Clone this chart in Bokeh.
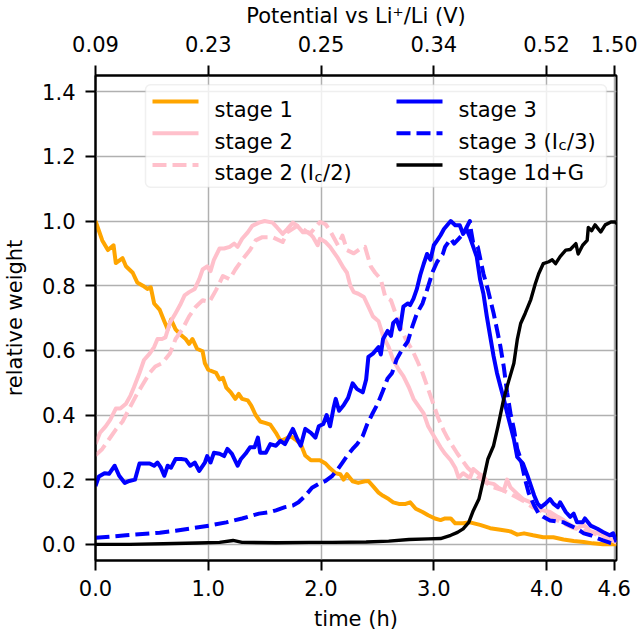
from bokeh.plotting import figure
from bokeh.models import (FixedTicker, PrintfTickFormatter, LinearAxis, Range1d,
                          BoxAnnotation, Arrow, Label, CustomJSTickFormatter)
from bokeh.embed import file_html
from bokeh.resources import INLINE

# ---------------- data ----------------
t_stage1 = [0.00, 0.06, 0.11, 0.16, 0.18, 0.24, 0.27, 0.33, 0.37, 0.42, 0.46, 0.49, 0.52, 0.57,
            0.61, 0.64, 0.67, 0.71, 0.75, 0.80, 0.83, 0.86, 0.90, 0.95, 0.97, 1.00, 1.07, 1.10,
            1.13, 1.16, 1.20, 1.24, 1.27, 1.30, 1.35, 1.38, 1.42, 1.46, 1.51, 1.55, 1.60, 1.64,
            1.68, 1.73, 1.77, 1.82, 1.86, 1.91, 1.95, 1.99, 2.04, 2.08, 2.13, 2.17, 2.20, 2.23,
            2.28, 2.33, 2.39, 2.42, 2.47, 2.51, 2.55, 2.60, 2.64, 2.69, 2.75, 2.79, 2.84, 2.90,
            2.95, 3.01, 3.06, 3.10, 3.15, 3.19, 3.26, 3.32, 3.41, 3.50, 3.59, 3.68, 3.74, 3.80,
            3.88, 3.97, 4.06, 4.15, 4.24, 4.33, 4.41, 4.50, 4.62]
w_stage1 = [1.00, 0.94, 0.91, 0.925, 0.87, 0.885, 0.86, 0.84, 0.81, 0.80, 0.79, 0.795, 0.745, 0.725,
            0.69, 0.665, 0.695, 0.665, 0.65, 0.635, 0.62, 0.635, 0.605, 0.597, 0.56, 0.54, 0.53, 0.51,
            0.515, 0.485, 0.47, 0.45, 0.465, 0.45, 0.445, 0.43, 0.40, 0.38, 0.375, 0.37, 0.345, 0.32,
            0.325, 0.335, 0.325, 0.31, 0.275, 0.26, 0.26, 0.26, 0.25, 0.235, 0.22, 0.217, 0.20, 0.217,
            0.195, 0.19, 0.195, 0.196, 0.176, 0.16, 0.15, 0.14, 0.13, 0.125, 0.125, 0.13, 0.11, 0.10,
            0.09, 0.08, 0.075, 0.08, 0.08, 0.065, 0.065, 0.068, 0.06, 0.05, 0.045, 0.04, 0.03, 0.034,
            0.028, 0.022, 0.022, 0.015, 0.01, 0.007, 0.003, 0.0, 0.0]

t_stage2 = [0.00, 0.04, 0.09, 0.13, 0.18, 0.22, 0.27, 0.31, 0.34, 0.39, 0.43, 0.48, 0.52, 0.55,
            0.59, 0.62, 0.66, 0.71, 0.75, 0.79, 0.83, 0.88, 0.92, 0.95, 0.99, 1.02, 1.05, 1.10,
            1.14, 1.19, 1.23, 1.26, 1.30, 1.35, 1.39, 1.45, 1.50, 1.57, 1.61, 1.66, 1.70, 1.75,
            1.79, 1.84, 1.89, 1.93, 1.97, 1.99, 2.04, 2.08, 2.15, 2.20, 2.23, 2.26, 2.29, 2.33,
            2.38, 2.42, 2.46, 2.51, 2.55, 2.60, 2.64, 2.69, 2.73, 2.78, 2.82, 2.86, 2.91, 2.95,
            3.00, 3.06, 3.10, 3.15, 3.19, 3.22, 3.26, 3.32, 3.35, 3.40, 3.44, 3.48, 3.53, 3.57,
            3.62, 3.65, 3.68, 3.74, 3.79, 3.86, 3.92, 3.97, 4.03, 4.10, 4.15, 4.21, 4.27, 4.33,
            4.39, 4.45, 4.54, 4.62]
w_stage2 = [0.31, 0.345, 0.365, 0.385, 0.42, 0.42, 0.435, 0.46, 0.485, 0.53, 0.57, 0.59, 0.61, 0.635,
            0.635, 0.64, 0.685, 0.715, 0.74, 0.77, 0.78, 0.79, 0.82, 0.85, 0.86, 0.845, 0.88, 0.915,
            0.915, 0.92, 0.93, 0.92, 0.945, 0.965, 0.985, 0.995, 1.00, 0.995, 0.98, 0.96, 0.975, 0.995,
            0.985, 0.965, 0.965, 0.95, 0.925, 0.945, 0.935, 0.92, 0.885, 0.855, 0.84, 0.80, 0.78, 0.775,
            0.765, 0.735, 0.705, 0.69, 0.645, 0.61, 0.57, 0.54, 0.52, 0.485, 0.45, 0.43, 0.405, 0.365,
            0.335, 0.30, 0.28, 0.26, 0.237, 0.206, 0.22, 0.205, 0.233, 0.218, 0.212, 0.19, 0.187, 0.176,
            0.166, 0.20, 0.176, 0.156, 0.14, 0.13, 0.11, 0.105, 0.10, 0.085, 0.075, 0.06, 0.05, 0.06,
            0.04, 0.035, 0.023, 0.005]

t_stage2_half = [0.00, 0.06, 0.12, 0.18, 0.24, 0.30, 0.36, 0.42, 0.48, 0.53, 0.59, 0.66, 0.71, 0.77,
                 0.83, 0.89, 0.95, 1.01, 1.07, 1.13, 1.19, 1.24, 1.30, 1.37, 1.42, 1.48, 1.57, 1.66,
                 1.70, 1.79, 1.84, 1.90, 1.99, 2.04, 2.08, 2.15, 2.19, 2.23, 2.29, 2.35, 2.39, 2.44,
                 2.48, 2.53, 2.57, 2.62, 2.66, 2.70, 2.75, 2.81, 2.85, 2.90, 2.94, 3.00, 3.04, 3.09,
                 3.12, 3.21, 3.30, 3.35, 3.44, 3.53, 3.62, 3.71, 3.79, 3.88, 3.97, 4.06, 4.15, 4.24,
                 4.33, 4.42, 4.51, 4.62]
w_stage2_half = [0.275, 0.295, 0.325, 0.355, 0.38, 0.42, 0.46, 0.495, 0.53, 0.55, 0.56, 0.59, 0.635, 0.665,
                 0.705, 0.735, 0.755, 0.75, 0.787, 0.83, 0.82, 0.85, 0.88, 0.91, 0.94, 0.95, 0.95, 0.935,
                 0.965, 0.985, 0.975, 0.96, 0.997, 0.99, 0.97, 0.925, 0.955, 0.91, 0.90, 0.915, 0.92, 0.86,
                 0.84, 0.82, 0.765, 0.755, 0.715, 0.675, 0.635, 0.60, 0.57, 0.53, 0.49, 0.43, 0.39, 0.35,
                 0.33, 0.28, 0.237, 0.22, 0.196, 0.176, 0.166, 0.15, 0.135, 0.114, 0.10, 0.08, 0.065, 0.05,
                 0.043, 0.033, 0.023, 0.007]

t_stage3 = [0.00, 0.03, 0.08, 0.12, 0.17, 0.21, 0.26, 0.30, 0.35, 0.39, 0.43, 0.48, 0.52, 0.55,
            0.58, 0.61, 0.64, 0.67, 0.71, 0.76, 0.80, 0.84, 0.88, 0.92, 0.97, 0.99, 1.02, 1.05,
            1.10, 1.14, 1.17, 1.21, 1.26, 1.29, 1.33, 1.37, 1.41, 1.44, 1.46, 1.51, 1.55, 1.60,
            1.64, 1.68, 1.75, 1.79, 1.82, 1.86, 1.91, 1.95, 1.98, 2.02, 2.05, 2.08, 2.11, 2.13,
            2.16, 2.20, 2.24, 2.28, 2.32, 2.37, 2.40, 2.42, 2.46, 2.51, 2.53, 2.55, 2.59, 2.62,
            2.64, 2.67, 2.70, 2.73, 2.77, 2.79, 2.82, 2.85, 2.88, 2.91, 2.94, 2.97, 3.00, 3.03,
            3.06, 3.09, 3.15, 3.19, 3.23, 3.26, 3.29, 3.32, 3.35, 3.38, 3.41, 3.44, 3.47, 3.50,
            3.53, 3.56, 3.59, 3.62, 3.65, 3.68, 3.71, 3.74, 3.79, 3.83, 3.86, 3.89, 3.92, 3.95,
            3.99, 4.03, 4.06, 4.10, 4.12, 4.17, 4.21, 4.24, 4.27, 4.32, 4.34, 4.39, 4.45, 4.50,
            4.56, 4.59, 4.62]
w_stage3 = [0.18, 0.21, 0.22, 0.218, 0.243, 0.212, 0.19, 0.196, 0.20, 0.25, 0.25, 0.25, 0.243, 0.253,
            0.237, 0.212, 0.243, 0.237, 0.264, 0.264, 0.262, 0.243, 0.253, 0.227, 0.253, 0.273, 0.253, 0.283,
            0.28, 0.273, 0.295, 0.28, 0.243, 0.264, 0.28, 0.30, 0.30, 0.33, 0.283, 0.283, 0.31, 0.305,
            0.32, 0.31, 0.357, 0.325, 0.305, 0.357, 0.345, 0.33, 0.365, 0.372, 0.40, 0.365, 0.42, 0.45,
            0.413, 0.43, 0.453, 0.498, 0.48, 0.47, 0.51, 0.58, 0.59, 0.61, 0.587, 0.635, 0.66, 0.645,
            0.685, 0.695, 0.665, 0.735, 0.745, 0.74, 0.76, 0.79, 0.833, 0.867, 0.898, 0.88, 0.925, 0.94,
            0.956, 0.975, 1.00, 0.987, 0.987, 0.96, 0.975, 0.95, 0.92, 0.89, 0.82, 0.775, 0.705, 0.643,
            0.582, 0.53, 0.49, 0.45, 0.407, 0.366, 0.325, 0.27, 0.25, 0.213, 0.182, 0.151, 0.126, 0.115,
            0.126, 0.14, 0.126, 0.115, 0.13, 0.10, 0.085, 0.095, 0.068, 0.068, 0.08, 0.058, 0.048, 0.038,
            0.028, 0.034, 0.007]

t_stage3_third = [0.00, 0.27, 0.57, 0.71, 0.86, 1.01, 1.16, 1.30, 1.45, 1.55, 1.60, 1.68, 1.75, 1.80,
                  1.86, 1.92, 1.98, 2.04, 2.10, 2.15, 2.19, 2.23, 2.28, 2.32, 2.37, 2.41, 2.46, 2.50,
                  2.54, 2.59, 2.63, 2.67, 2.72, 2.77, 2.81, 2.85, 2.90, 2.94, 2.99, 3.03, 3.08, 3.10,
                  3.15, 3.18, 3.22, 3.26, 3.29, 3.32, 3.33, 3.35, 3.39, 3.44, 3.48, 3.53, 3.56, 3.59, 3.62,
                  3.65, 3.68, 3.71, 3.74, 3.77, 3.81, 3.84, 3.89, 3.93, 3.97, 4.03, 4.10, 4.15, 4.21,
                  4.27, 4.33, 4.39, 4.45, 4.50, 4.56, 4.62]
w_stage3_third = [0.02, 0.028, 0.036, 0.042, 0.05, 0.058, 0.068, 0.08, 0.095, 0.10, 0.105, 0.115, 0.12, 0.13,
                  0.15, 0.175, 0.187, 0.196, 0.212, 0.233, 0.253, 0.273, 0.295, 0.31, 0.335, 0.372, 0.407, 0.433,
                  0.467, 0.513, 0.53, 0.572, 0.603, 0.628, 0.674, 0.714, 0.745, 0.787, 0.843, 0.874, 0.898, 0.92,
                  0.945, 0.93, 0.945, 0.96, 0.98, 1.0, 0.97, 0.93, 0.92, 0.837, 0.787, 0.715, 0.665, 0.613, 0.55,
                  0.47, 0.405, 0.357, 0.295, 0.264, 0.20, 0.16, 0.12, 0.095, 0.085, 0.074, 0.07, 0.068, 0.058,
                  0.048, 0.034, 0.028, 0.019, 0.012, 0.005, 0.0]

t_stage1dG = [0.00, 0.30, 0.60, 0.90, 1.10, 1.22, 1.30, 1.60, 1.90, 2.10, 2.40, 2.60, 2.78, 2.95,
              3.06, 3.15, 3.21, 3.26, 3.31, 3.35, 3.40, 3.44, 3.48, 3.53, 3.57, 3.62, 3.66, 3.71,
              3.74, 3.77, 3.81, 3.86, 3.90, 3.93, 3.97, 4.02, 4.05, 4.08, 4.12, 4.17, 4.21, 4.26,
              4.28, 4.32, 4.36, 4.37, 4.40, 4.43, 4.48, 4.52, 4.57, 4.61, 4.63]
w_stage1dG = [0.0, 0.0, 0.002, 0.004, 0.006, 0.012, 0.006, 0.005, 0.006, 0.006, 0.007, 0.01, 0.015, 0.017,
              0.018, 0.028, 0.037, 0.048, 0.068, 0.104, 0.14, 0.20, 0.264, 0.305, 0.366, 0.45, 0.50, 0.56,
              0.633, 0.683, 0.714, 0.757, 0.806, 0.837, 0.868, 0.874, 0.88, 0.868, 0.89, 0.91, 0.912, 0.93,
              0.898, 0.925, 0.94, 0.98, 0.97, 0.988, 0.966, 0.988, 0.997, 0.997, 0.99]

x_ticks = [0, 1, 2, 3, 4, 4.6]
potential_labels = ["0.09", "0.23", "0.25", "0.34", "0.52", "1.50"]
y_ticks = [0.0, 0.2, 0.4, 0.6, 0.8, 1.0, 1.2, 1.4]

# ---------------- styling ----------------
FONT = "DejaVu Sans"
FS = "21px"
ORANGE, PINK, BLUE, BLACK = "#ffa500", "#ffc0cb", "#0000ff", "#000000"
LW = 4.0
LWK = 3.4
DASH = "14 6"

p = figure(width=638, height=635, output_backend="svg", toolbar_location=None,
           x_range=Range1d(0, 4.62), y_range=Range1d(-0.05, 1.45),
           min_border_left=95, min_border_right=22, min_border_top=73, min_border_bottom=75,
           x_axis_label="time (h)", y_axis_label="relative weight")
p.background_fill_color = "white"
p.border_fill_color = "white"
p.outline_line_color = "black"
p.outline_line_width = 2

series = [
    (t_stage1, w_stage1, ORANGE, "solid", LW),
    (t_stage2, w_stage2, PINK, "solid", LW),
    (t_stage2_half, w_stage2_half, PINK, DASH, LW),
    (t_stage3, w_stage3, BLUE, "solid", LW),
    (t_stage3_third, w_stage3_third, BLUE, DASH, LW),
    (t_stage1dG, w_stage1dG, BLACK, "solid", LWK),
]
for tx, wy, col, dash, lw in series:
    p.line(tx, wy, line_color=col, line_width=lw, line_dash=dash, line_join="round")

# axes
def style_axis(ax):
    ax.axis_line_width = 2
    ax.axis_line_color = "black"
    ax.major_tick_line_width = 2
    ax.major_tick_line_color = "black"
    ax.major_tick_out = 10
    ax.major_tick_in = 0
    ax.minor_tick_out = 0
    ax.minor_tick_in = 0
    ax.major_label_text_font = FONT
    ax.major_label_text_font_size = FS
    ax.major_label_text_color = "black"
    ax.axis_label_text_font = FONT
    ax.axis_label_text_font_size = FS
    ax.axis_label_text_font_style = "normal"
    ax.axis_label_text_color = "black"

xa = p.xaxis[0]
style_axis(xa)
xa.ticker = FixedTicker(ticks=x_ticks)
xa.formatter = PrintfTickFormatter(format="%.1f")
xa.major_label_standoff = 9
xa.axis_label_standoff = 8

ya = p.yaxis[0]
style_axis(ya)
ya.ticker = FixedTicker(ticks=y_ticks)
ya.formatter = PrintfTickFormatter(format="%.1f")
ya.major_label_standoff = 10
ya.axis_label_standoff = 12

top = LinearAxis(ticker=FixedTicker(ticks=x_ticks),
                 formatter=CustomJSTickFormatter(args=dict(labels=potential_labels),
                                                 code="return labels[index];"),
                 axis_label="Potential vs Li\u207a/Li (V)")
style_axis(top)
top.major_label_standoff = 14
top.axis_label_standoff = 5
p.add_layout(top, "above")

p.xgrid.ticker = FixedTicker(ticks=x_ticks)
p.ygrid.ticker = FixedTicker(ticks=y_ticks)
for g in (p.xgrid, p.ygrid):
    g.grid_line_color = "#b0b0b0"
    g.grid_line_width = 1.5

def lab(x, y, text, size=FS, style="normal"):
    p.add_layout(Label(x=x, y=y, x_units="screen", y_units="screen", text=text,
                       text_font=FONT, text_font_size=size, text_font_style=style,
                       text_color="black", text_align="left", text_baseline="alphabetic"))

# legend (two columns, matplotlib style), positions relative to the plot frame
p.add_layout(BoxAnnotation(left=50, right=511, bottom=373.3, top=475.7,
                           left_units="screen", right_units="screen",
                           bottom_units="screen", top_units="screen",
                           fill_color="white", fill_alpha=0.8,
                           line_color="#cccccc", line_width=1.5, border_radius=5))

rows_handle = [459, 427.3, 395.5]
rows_base = [450.7, 419, 387.3]
cols = [(57, 103, 119), (301, 347, 363)]
entries = [
    (0, 0, ORANGE, "solid", LW, ["stage 1"]),
    (0, 1, PINK, "solid", LW, ["stage 2"]),
    (0, 2, PINK, DASH, LW, ["stage 2 (I", "c", "/2)"]),
    (1, 0, BLUE, "solid", LW, ["stage 3"]),
    (1, 1, BLUE, DASH, LW, ["stage 3 (I", "c", "/3)"]),
    (1, 2, BLACK, "solid", LWK, ["stage 1d+G"]),
]
for ci, ri, col, dash, lw, parts in entries:
    x0, x1, xt = cols[ci]
    yh = rows_handle[ri]
    p.add_layout(Arrow(x_start=x0, y_start=yh, x_end=x1, y_end=yh,
                       start_units="screen", end_units="screen", start=None, end=None,
                       line_color=col, line_width=lw, line_dash=dash))
    yb = rows_base[ri]
    lab(xt, yb, parts[0])
    if len(parts) > 1:
        lab(xt + 99.9, yb - 3, parts[1], size="14.7px")
        lab(xt + 108.6, yb, parts[2])

open("out.html", "w").write(file_html(p, INLINE))
